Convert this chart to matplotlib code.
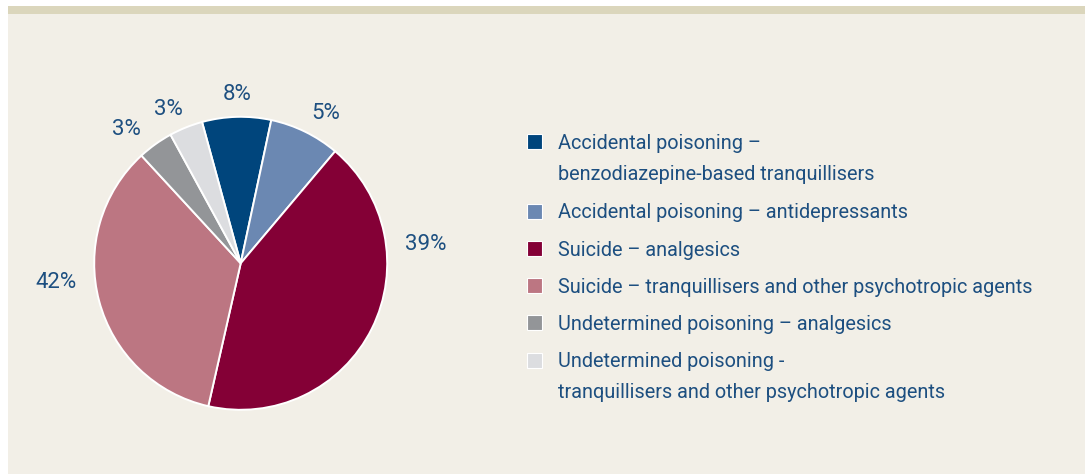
import matplotlib
matplotlib.use("Agg")
import matplotlib.pyplot as plt
from matplotlib.patches import Rectangle

# ---- data ----
categories = [
    "Accidental poisoning –\nbenzodiazepine-based tranquillisers",
    "Accidental poisoning – antidepressants",
    "Suicide – analgesics",
    "Suicide – tranquillisers and other psychotropic agents",
    "Undetermined poisoning – analgesics",
    "Undetermined poisoning -\ntranquillisers and other psychotropic agents",
]
# slice sizes as drawn in the reference (share of the circle, %)
slice_values = [7.6, 7.8, 42.4, 34.6, 3.9, 3.7]
# percentage labels printed on the reference
pct_labels = ["8%", "5%", "39%", "42%", "3%", "3%"]
colors = ["#00457c", "#6b88b2", "#840036", "#bc7682", "#939598", "#dcdde0"]

TEXT = "#1d4f80"
W, H = 1085, 474
plt.rcParams["font.family"] = ["Roboto", "DejaVu Sans"]

fig = plt.figure(figsize=(W / 100, H / 100), dpi=100)
fig.patch.set_facecolor("white")
ax = fig.add_axes([0, 0, 1, 1])

# background panel and top band (pixel layout, y up)
ax.add_patch(Rectangle((8, 0.5), W - 8, H - 14 - 0.5, facecolor="#f2efe7", edgecolor="none", zorder=0))
ax.add_patch(Rectangle((8, H - 14), W - 8, 8, facecolor="#dbd6bc", edgecolor="none", zorder=0))

cx, cy, r = 240.7, H - 263.3, 146.5
wedges, _ = ax.pie(
    slice_values,
    colors=colors,
    startangle=105.3,
    counterclock=False,
    center=(cx, cy),
    radius=r,
    wedgeprops=dict(edgecolor="white", linewidth=1.4),
    frame=True,
)
ax.set_xlim(0, W)
ax.set_ylim(0, H)
ax.set_aspect("auto")
ax.axis("off")

# percentage label positions (pixel layout, image coords)
label_pos = [(237, 94.5), (325.8, 113.3), (425.5, 244), (56.5, 282.5), (126.3, 129.7), (168.7, 109)]
for txt, (lx, ly) in zip(pct_labels, label_pos):
    ax.text(lx, H - ly, txt, ha="center", va="center", fontsize=16, color=TEXT)

# legend
sq = 15
leg_x = 527
text_x = 558
rows = [141.7, 211, 248.3, 285.7, 322.7, 360]
line_gap = 31
cap_half = 7.2
for lab, col, y in zip(categories, colors, rows):
    ax.add_patch(Rectangle((leg_x, H - y - sq / 2), sq, sq, facecolor=col,
                           edgecolor="white", linewidth=0.8, zorder=3))
    for i, line in enumerate(lab.split("\n")):
        ax.text(text_x, H - (y + cap_half + i * line_gap), line, ha="left",
                va="baseline", fontsize=14.3, color=TEXT)

fig.savefig("out.png", dpi=100, facecolor=fig.get_facecolor())
